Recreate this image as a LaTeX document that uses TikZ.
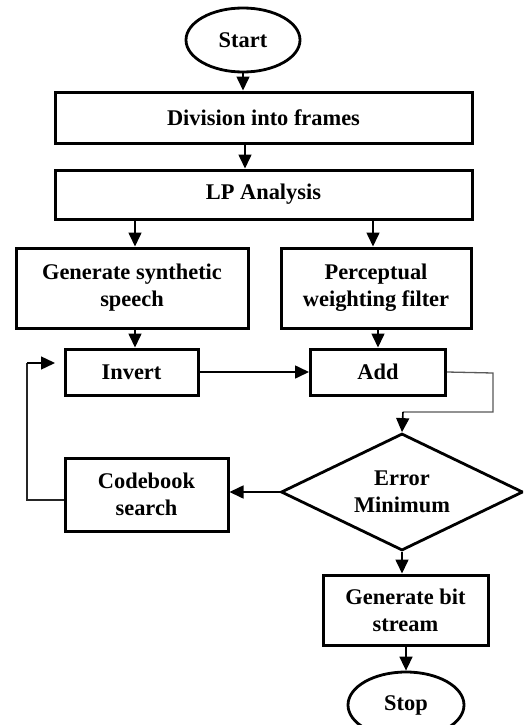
\documentclass[tikz,border=0pt]{standalone}
\usepackage{fontspec}
\setmainfont{Liberation Serif}
\usetikzlibrary{shapes.geometric,arrows.meta}
\begin{document}
\begin{tikzpicture}[x=1pt,y=-1pt,
  box/.style={draw,line width=3pt,rectangle,inner sep=0pt,align=center,
    font=\fontsize{22.4}{27}\selectfont\bfseries},
  oval/.style={draw,line width=2.8pt,ellipse,inner sep=0pt,
    font=\fontsize{22.4}{27}\selectfont\bfseries},
  dia/.style={draw,line width=2.8pt,diamond,aspect=2,inner sep=0pt,align=center,
    font=\fontsize{22.4}{27}\selectfont\bfseries},
  arr/.style={line width=1.6pt,-{Triangle[length=14pt,width=13pt]}},
  thin/.style={line width=1.3pt,draw=black!65},
]
\useasboundingbox (0,0) rectangle (523,725);
\clip (0,0) rectangle (523,725);
\fill[white] (0,0) rectangle (523,725);

\node[oval,minimum width=114pt,minimum height=64pt] (start) at (243,40) {Start};
\node[box,minimum width=417pt,minimum height=51pt] (div) at (263.5,117.5) {Division into frames};
\node[box,minimum width=417pt,minimum height=49pt] (lp) at (263.5,194.5) {LP Analysis};
\node[box,minimum width=232pt,minimum height=80pt] (gss) at (132,288) {Generate synthetic\\speech};
\node[box,minimum width=190pt,minimum height=80pt] (pwf) at (376,288) {Perceptual\\weighting filter};
\node[box,minimum width=133pt,minimum height=46pt] (inv) at (131.5,372) {Invert};
\node[box,minimum width=135pt,minimum height=46pt] (add) at (378,372) {Add};
\node[dia,minimum width=242pt,minimum height=117pt] (err) at (402,492) {Error\\Minimum};
\node[box,minimum width=163pt,minimum height=73pt] (cb) at (146.5,494.5) {Codebook\\search};
\node[box,minimum width=165pt,minimum height=70pt] (gbs) at (405.5,610) {Generate bit\\stream};
\node[oval,minimum width=116pt,minimum height=66pt] (stop) at (406,705) {Stop};

\coordinate (a1) at (493,373);
\coordinate (a2) at (493,412);
\coordinate (a3) at (403,412);
\coordinate (l1) at (27,500);
\coordinate (l2) at (27,363);
\coordinate (l3) at (55,363);

\draw[arr] (start.south) -- (div.north -| start.south);
\draw[arr] (div.south -| 245,0) -- (lp.north -| 245,0);
\draw[arr] (lp.south -| 135,0) -- (gss.north -| 135,0);
\draw[arr] (lp.south -| 373,0) -- (pwf.north -| 373,0);
\draw[arr] (gss.south -| 135,0) -- (inv.north -| 135,0);
\draw[arr] (pwf.south -| 378,0) -- (add.north -| 378,0);
\draw[arr] (inv.east) -- (add.west);
\draw[thin] (add.east) -- (a1) -- (a2) -- (a3);
\draw[arr] (a3) -- (err.north);
\draw[arr] (err.west) -- (cb.east |- err.west);
\draw[thin,draw=black!85] (cb.west |- l1) -- (l1) -- (l2);
\draw[arr,line width=1.4pt] (l2) -- (l3);
\draw[arr] (err.south) -- (gbs.north -| err.south);
\draw[arr] (gbs.south -| stop.north) -- (stop.north);
\end{tikzpicture}
\end{document}
